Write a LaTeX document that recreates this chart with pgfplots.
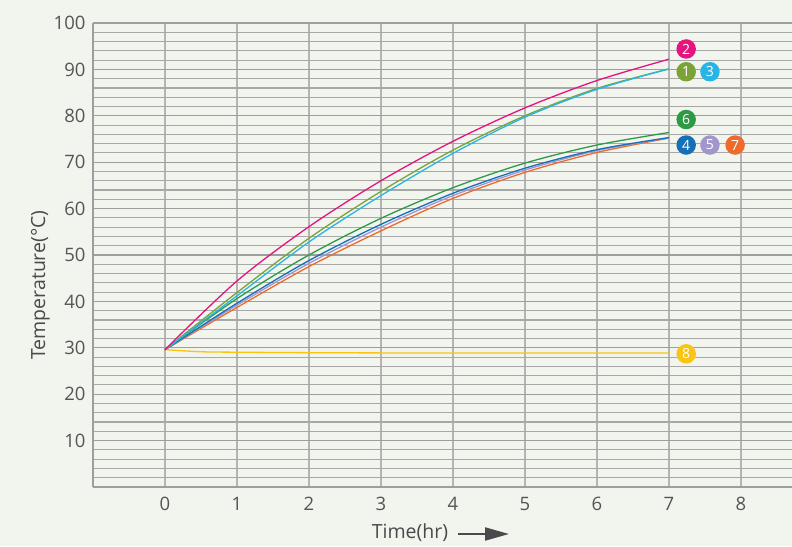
\documentclass[border=0pt]{standalone}
\usepackage{pgfplots}
\pgfplotsset{compat=1.18}
\usepackage{fontspec}
\setmainfont{Open Sans}
\usetikzlibrary{arrows.meta}

\definecolor{bg}{HTML}{F2F4EE}
\definecolor{gridmaj}{HTML}{9E9E9E}
\definecolor{gridmin}{HTML}{A8A8A8}
\definecolor{gridv}{HTML}{B4B4B4}
\definecolor{ticktext}{HTML}{555555}
\definecolor{labtext}{HTML}{4A4A4A}
\definecolor{cmag}{HTML}{E5147F}
\definecolor{colive}{HTML}{7BA339}
\definecolor{ccyan}{HTML}{27B5E6}
\definecolor{cgreen}{HTML}{2F9A46}
\definecolor{cblue}{HTML}{1570B8}
\definecolor{clav}{HTML}{A197CC}
\definecolor{corange}{HTML}{EF6B2C}
\definecolor{cyellow}{HTML}{F9C414}

\tikzset{num/.style={circle, fill=#1, inner sep=0pt, minimum size=19.5pt,
  text=white, font=\fontsize{14}{14}\selectfont}}

\begin{document}
\begin{tikzpicture}[x=1pt,y=1pt]
\fill[bg] (0,0) rectangle (792,546);
\begin{axis}[
  at={(93pt,59pt)}, anchor=south west,
  scale only axis, width=699pt, height=464pt,
  xmin=-1, xmax=8.71, ymin=0, ymax=100,
  axis x line*=bottom, axis y line*=left,
  axis line style={-, draw=gridmaj, line width=1.3pt},
  xtick={0,...,8}, ytick={10,20,...,100},
  minor ytick={2,4,...,98},
  major tick length=0pt, minor tick length=0pt,
  grid=both,
  major grid style={draw=gridmaj, line width=1.3pt},
  minor grid style={draw=gridmin, line width=1.1pt},
  x grid style={draw=gridv, line width=1.4pt},
  /pgf/number format/assume math mode=true,
  ticklabel style={font=\fontsize{18.5}{19}\selectfont, text=ticktext},
  xticklabel style={yshift=-7pt},
  yticklabel style={xshift=-4pt},
  clip=false,
  every axis plot/.append style={line width=1.3pt, smooth, no marks},
]
\addplot[cyellow] coordinates {(0,29.6) (0.5,29.15) (1,29.05) (2,28.95) (3,28.9) (4,28.9) (5,28.9) (6,28.9) (7,28.9)};
\addplot[corange] coordinates {(0,29.6) (1,38.7) (2,47.5) (3,55.2) (4,62.2) (5,67.8) (6,72.1) (7,75.2)};
\addplot[clav] coordinates {(0,29.6) (1,39.2) (2,48.2) (3,56.0) (4,62.8) (5,68.3) (6,72.5) (7,75.25)};
\addplot[cblue] coordinates {(0,29.6) (1,39.6) (2,48.8) (3,56.6) (4,63.3) (5,68.7) (6,72.7) (7,75.3)};
\addplot[cgreen] coordinates {(0,29.6) (1,40.6) (2,50.0) (3,57.9) (4,64.5) (5,69.8) (6,73.7) (7,76.4)};
\addplot[colive] coordinates {(0,29.6) (1,41.9) (2,53.6) (3,63.7) (4,72.6) (5,80.0) (6,85.9) (7,90.1)};
\addplot[ccyan] coordinates {(0,29.6) (1,41.2) (2,52.8) (3,62.8) (4,71.9) (5,79.7) (6,85.7) (7,90.1)};
\addplot[cmag] coordinates {(0,29.6) (1,44.4) (2,56.1) (3,66.0) (4,74.5) (5,81.7) (6,87.6) (7,92.2)};

\node[num=cmag] at (axis cs:7.24,94.4) {2};
\node[num=colive] at (axis cs:7.24,89.5) {1};
\node[num=ccyan] at (axis cs:7.57,89.5) {3};
\node[num=cgreen] at (axis cs:7.24,79.2) {6};
\node[num=cblue] at (axis cs:7.24,73.7) {4};
\node[num=clav] at (axis cs:7.57,73.7) {5};
\node[num=corange] at (axis cs:7.92,73.7) {7};
\node[num=cyellow] at (axis cs:7.24,28.7) {8};
\end{axis}
\node[rotate=90, text=labtext, font=\fontsize{19.5}{20}\selectfont] at (40.5,261) {Temperature(°C)};
\node[text=labtext, font=\fontsize{19.5}{20}\selectfont] at (410,13) {Time(hr)};
\draw[labtext, line width=2pt, -{Triangle[length=24pt, width=13pt]}] (458,12) -- (509,12);
\pgfresetboundingbox
\useasboundingbox (0,0) rectangle (792,546);
\end{tikzpicture}
\end{document}
